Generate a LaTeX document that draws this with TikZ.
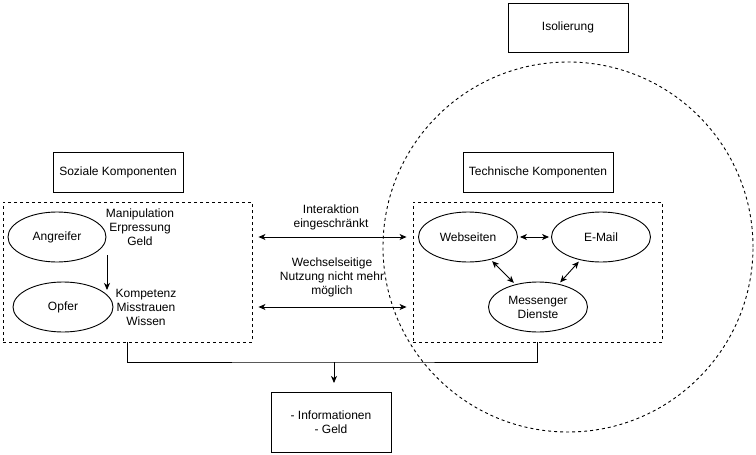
\documentclass[tikz,border=0pt]{standalone}
\usepackage{fontspec}
\setmainfont{Liberation Sans}
\usetikzlibrary{positioning,arrows.meta,shapes}
\tikzset{
scheme/.style={
    >={Stealth[length=7pt,width=6pt,inset=2pt]},
    x=1pt,
    y=-1pt,
    line width=0.9pt,
    font=\fontsize{12}{14}\selectfont
},
box/.style={
    rectangle,
    draw,
    align=center,
    inner sep=0pt
},
group/.style={
    rectangle,
    draw,
    dash pattern=on 3pt off 3pt,
    minimum width=249pt,
    minimum height=140pt
},
item/.style={
    ellipse,
    draw,
    align=center,
    inner sep=0pt,
    minimum width=99pt,
    minimum height=50pt
},
note/.style={
    align=center,
    inner sep=0pt
},
flows/.style={
    ->
},
links/.style={
    <->,
    shorten >=2pt,
    shorten <=2pt
},
wide/.style={
    <->,
    shorten >=6pt,
    shorten <=6pt
}}

\begin{document}
\begin{tikzpicture}[scheme]
\useasboundingbox (0,0) rectangle (756,455);

\node    (ring)  [circle, draw, dash pattern=on 3pt off 3pt, minimum size=370pt] at (568,247) {};
\node    (iso)   [box, minimum width=120pt, minimum height=49pt] at (568,27.5) {Isolierung};

\node    (soz)   [box, minimum width=130pt, minimum height=40pt] at (118,172) {Soziale Komponenten};
\node    (tech)  [box, minimum width=150pt, minimum height=40pt] at (538,172) {Technische Komponenten};

\node    (left)  [group] at (127.5,272) {};
\node    (right) [group] at (537.5,272) {};

\node    (ang)   [item, minimum width=98pt] at (57,237)  {Angreifer};
\node    (opf)   [item, minimum width=100pt] at (63,307) {Opfer};
\node    (man)   [note] at (140,227) {Manipulation\\Erpressung\\Geld};
\node    (komp)  [note] at (146,307) {Kompetenz\\Misstrauen\\Wissen};
\coordinate (a1) at (107,255);
\coordinate (a2) at (107,290);

\node    (web)   [item] at (468,237) {Webseiten};
\node    (mail)  [item] at (601,237) {E-Mail};
\node    (msg)   [item] at (538,307) {Messenger\\Dienste};

\node    (inter) [note] at (331,217) {Interaktion\\eingeschränkt};
\node    (wech)  [note] at (332,277) {Wechselseitige\\Nutzung nicht mehr\\möglich};

\node    (info)  [box, minimum width=120pt, minimum height=60pt] at (331,422) {- Informationen\\- Geld};
\coordinate (join) at (334,362);
\coordinate (tip)  at (334,383);

\path    (a1)    edge[flows]   (a2);

\path    (web)   edge[links]   (mail);
\path    (web)   edge[links]   (msg);
\path    (mail)  edge[links]   (msg);

\path    (left.east |- web)  edge[wide]  (right.west |- web);
\path    (left.east |- opf)  edge[wide]  (right.west |- opf);

\draw    (left.south) |- (join) -| (right.south);
\path    (join)  edge[flows]   (tip);
\end{tikzpicture}
\end{document}
